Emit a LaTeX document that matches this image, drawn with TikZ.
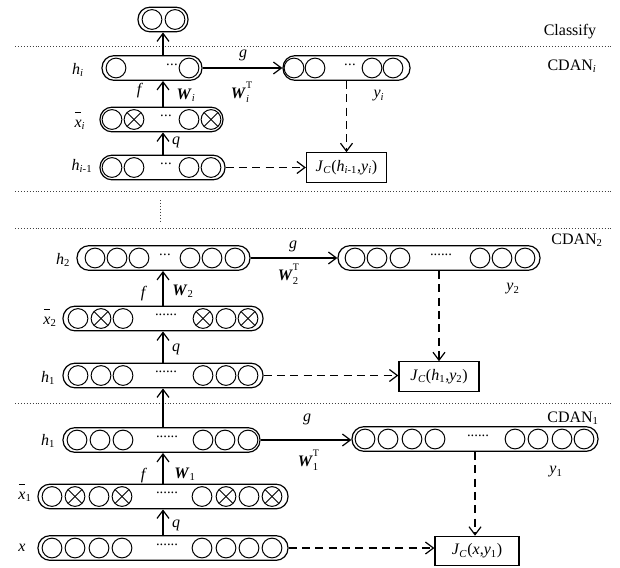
\documentclass[tikz,border=0pt,12pt]{standalone}
\usepackage{fontspec}
\setmainfont{Liberation Serif}
\usetikzlibrary{arrows.meta}
\newcommand\iv[1]{\textit{#1}}
\newcommand\sbs[1]{\textsubscript{#1}}
\newcommand\Wb{\textbf{\textit{W}}}
\newcommand\WT[1]{\Wb\rlap{\raisebox{0.62em}{\fontsize{7.5}{8}\selectfont T}}\raisebox{-0.25em}{\fontsize{8}{9}\selectfont #1}}
\newcommand\xb{\makebox[0pt][l]{\hspace{0.02em}\raisebox{0.92em}{\rule{0.36em}{0.5pt}}}\textit{x}}
\newcommand\dthree{.\kern0.3pt.\kern0.3pt.}
\newcommand\dsix{......}
\newcommand\lay[7]{% name, xleft, xright, cy, circles cx/type, dots x, dots count
  \node[lay, minimum width={(#3-#2)*0.75pt}] (#1) at ({(#2+#3)/2},#4) {};
  \foreach \cx/\ct in {#5} {
    \draw[circ] (\cx,#4) circle[radius=7.4pt];
    \ifnum\ct=1
      \draw[circ] ([shift={(-5.2pt,-5.2pt)}]\cx,#4) -- ++(10.4pt,10.4pt);
      \draw[circ] ([shift={(-5.2pt,5.2pt)}]\cx,#4) -- ++(10.4pt,-10.4pt);
    \fi
  }
  \ifnum#7>0
    \node[dotsty] (#1d) at (#6,#4-3) {\ifnum#7=3 \dthree\else\dsix\fi};
  \fi
}
\begin{document}
\begin{tikzpicture}[x=0.75pt,y=-0.75pt,
  lay/.style={draw, rounded corners=9pt, minimum height=18.5pt, inner sep=0pt, line width=0.9pt},
  circ/.style={line width=0.75pt},
  arr/.style={line width=0.9pt, -{Straight Barb[length=6pt,width=9pt,line width=0.9pt]}},
  dsh/.style={arr, dash pattern=on 6pt off 4pt},
  sep/.style={line width=0.6pt, dash pattern=on 0.6pt off 1.6pt, black!75},
  jbox/.style={draw, line width=0.9pt, minimum height=22pt, inner sep=2pt},
  dotsty/.style={anchor=base, inner sep=0pt, font=\fontsize{11}{12}\selectfont},
  lbl/.style={inner sep=0pt}]
\useasboundingbox (0,0) rectangle (620,567);
\coordinate (axis) at (163,0);

% separators
\draw[sep] (15,46) -- (612,46);
\draw[sep] (15,191) -- (612,191);
\draw[sep] (15,228) -- (612,228);
\draw[sep] (15,403) -- (612,403);
\draw[sep] (160,200) -- (160,223);

% ---------- CDAN_i + classify
\lay{cls}{138}{188}{19.5}{152/0,175/0}{0}{0}
\lay{hi}{102}{202}{68}{116/0,189/0}{172}{3}
\lay{yi}{283}{410}{68}{294/0,315/0,372/0,393/0}{350}{3}
\lay{xbi}{100}{223}{119.5}{112/0,134/1,189/0,211/1}{166}{3}
\lay{hii}{100}{225}{167.5}{112/0,134/0,189/0,211/0}{166}{3}
\node[jbox, minimum width=60pt] (Ji) at (346.5,167.5) {\iv{J}\sbs{\iv{C}}(\iv{h}\sbs{\iv{i}-1},\iv{y}\sbs{\iv{i}})};

\draw[arr] (hi.north -| axis) -- (cls.south -| axis);
\draw[arr] (xbi.north -| axis) -- (hi.south -| axis);
\draw[arr] (hii.north -| axis) -- (xbi.south -| axis);
\draw[arr] (hi.east) -- (yi.west);
\draw[dsh] (hii.east) -- (Ji.west);
\draw[dsh] (yi.south) -- (Ji.north);

\node[lbl] (tcls) at (570,32) {Classify};
\node[lbl] (tcdi) at (572,66) {CDAN\sbs{\iv{i}}};
\node[lbl] (thi) at (78,70) {\iv{h}\sbs{\iv{i}}};
\node[lbl] (tgi) at (243,55) {\iv{g}};
\node[lbl] (twti) at (240,92) {\WT{\iv{i}}};
\node[lbl] (tfi) at (140,91) {\iv{f}};
\node[lbl] (twi) at (186,95) {\Wb\sbs{\iv{i}}};
\node[lbl] (tyi) at (379,96) {\iv{y}\sbs{\iv{i}}};
\node[lbl] (txbi) at (80,121) {\xb\sbs{\iv{i}}};
\node[lbl] (tqi) at (176,142) {\iv{q}};
\node[lbl] (thii) at (82,166) {\iv{h}\sbs{\iv{i}-1}};

% ---------- CDAN_2
\lay{htwo}{77}{250}{258}{95/0,117/0,139/0,190/0,212/0,235/0}{165}{3}
\lay{ytwo}{338}{540}{258}{355/0,377/0,400/0,480/0,502/0,525/0}{441}{6}
\lay{xbtwo}{63}{263}{318.5}{78/0,101/1,123/0,203/1,226/0,248/1}{166}{6}
\lay{hm}{63}{263}{375.5}{78/0,101/0,123/0,203/0,226/0,248/0}{166}{6}
\node[jbox, minimum width=60pt] (Jtwo) at (439,376.5) {\iv{J}\sbs{\iv{C}}(\iv{h}\sbs{1},\iv{y}\sbs{2})};

\draw[arr] (xbtwo.north -| axis) -- (htwo.south -| axis);
\draw[arr] (hm.north -| axis) -- (xbtwo.south -| axis);
\draw[arr] (htwo.east) -- (ytwo.west);
\draw[dsh] (hm.east) -- (hm.east -| Jtwo.west);
\draw[dsh] (ytwo.south) -- (Jtwo.north);

\node[lbl] (tcd2) at (577,240) {CDAN\sbs{2}};
\node[lbl] (th2) at (63,260) {\iv{h}\sbs{2}};
\node[lbl] (tg2) at (293,246) {\iv{g}};
\node[lbl] (twt2) at (288,274) {\WT{2}};
\node[lbl] (tf2) at (144,294) {\iv{f}};
\node[lbl] (tw2) at (183,291) {\Wb\sbs{2}};
\node[lbl] (ty2) at (513,289) {\iv{y}\sbs{2}};
\node[lbl] (txb2) at (50,318) {\xb\sbs{2}};
\node[lbl] (tq2) at (176,349) {\iv{q}};
\node[lbl] (th1m) at (48,378) {\iv{h}\sbs{1}};

% ---------- CDAN_1
\lay{hb}{63}{260}{440}{77/0,100/0,123/0,203/0,225/0,248/0}{167}{6}
\lay{yone}{352}{598}{439}{365/0,388/0,412/0,435/0,515/0,538/0,562/0,584/0}{478}{6}
\lay{xbone}{38}{288}{496.5}{52/0,75/1,99/0,122/1,202/0,226/1,249/0,272/1}{167}{6}
\lay{xin}{38}{288}{548}{52/0,75/0,99/0,122/0,202/0,226/0,249/0,272/0}{167}{6}
\node[jbox, minimum width=63pt] (Jone) at (477,551) {\iv{J}\sbs{\iv{C}}(\iv{x},\iv{y}\sbs{1})};

\draw[arr] (hb.north -| axis) -- (hm.south -| axis);
\draw[arr] (xbone.north -| axis) -- (hb.south -| axis);
\draw[arr] (xin.north -| axis) -- (xbone.south -| axis);
\draw[arr] (hb.east) -- (hb.east -| yone.west);
\draw[dsh] (xin.east) -- (xin.east -| Jone.west);
\draw[dsh] (yone.south) -- (yone.south |- Jone.north);

\node[lbl] (tcd1) at (573,418) {CDAN\sbs{1}};
\node[lbl] (th1b) at (48,441) {\iv{h}\sbs{1}};
\node[lbl] (tg1) at (307,419) {\iv{g}};
\node[lbl] (twt1) at (308,460) {\WT{1}};
\node[lbl] (tf1) at (144,476) {\iv{f}};
\node[lbl] (tw1) at (185,474) {\Wb\sbs{1}};
\node[lbl] (ty1) at (556,472) {\iv{y}\sbs{1}};
\node[lbl] (txb1) at (25,493) {\xb\sbs{1}};
\node[lbl] (tq1) at (176,525) {\iv{q}};
\node[lbl] (tx) at (22,548) {\iv{x}};
\end{tikzpicture}
\end{document}
